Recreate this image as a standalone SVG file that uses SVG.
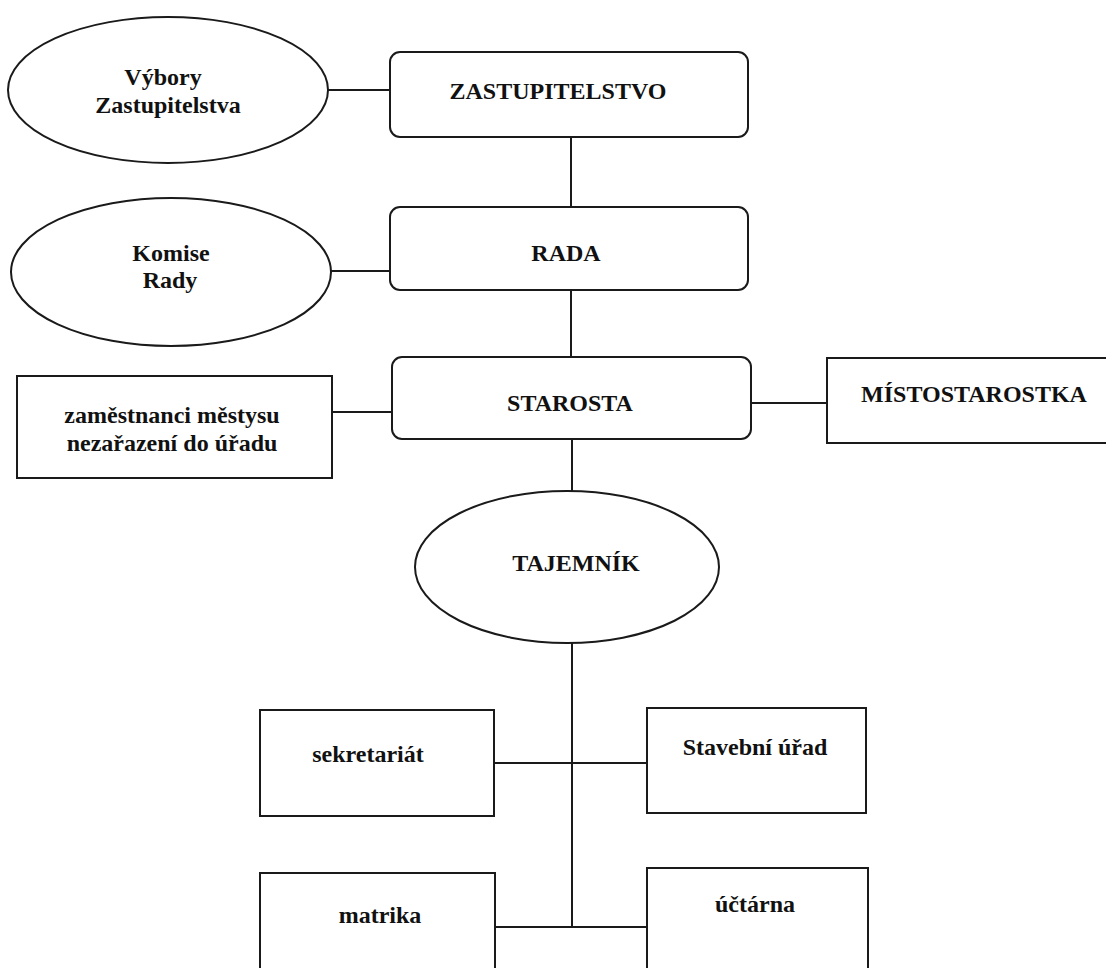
<svg xmlns="http://www.w3.org/2000/svg" width="1106" height="968" viewBox="0 0 1106 968">
<style>
.s{fill:#fff;stroke:#1a1a1a;stroke-width:2}
.c{fill:none;stroke:#1a1a1a;stroke-width:2}
text{font-family:"Liberation Serif","Times New Roman",serif;font-weight:bold;font-size:24px;fill:#111;text-anchor:middle}
</style>
<rect width="1106" height="968" fill="#fff"/>
<g id="connectors">
<line class="c" x1="328" y1="90" x2="390" y2="90"/>
<line class="c" x1="571" y1="137" x2="571" y2="207"/>
<line class="c" x1="331" y1="271" x2="390" y2="271"/>
<line class="c" x1="571" y1="290" x2="571" y2="357"/>
<line class="c" x1="332" y1="412" x2="392" y2="412"/>
<line class="c" x1="751" y1="403" x2="827" y2="403"/>
<line class="c" x1="572" y1="439" x2="572" y2="492"/>
<line class="c" x1="572" y1="643" x2="572" y2="927"/>
<line class="c" x1="494" y1="763" x2="647" y2="763"/>
<line class="c" x1="495" y1="927" x2="647" y2="927"/>
</g>
<g id="vybory"><ellipse class="s" cx="168" cy="90" rx="160" ry="73"/><text x="163" y="85">Výbory</text><text x="168" y="113">Zastupitelstva</text></g>
<g id="zastupitelstvo"><rect class="s" x="390" y="52" width="358" height="85" rx="10"/><text x="558" y="99">ZASTUPITELSTVO</text></g>
<g id="komise"><ellipse class="s" cx="171" cy="272" rx="160" ry="74"/><text x="171" y="261">Komise</text><text x="170" y="288">Rady</text></g>
<g id="rada"><rect class="s" x="390" y="207" width="358" height="83" rx="10"/><text x="566" y="261">RADA</text></g>
<g id="starosta"><rect class="s" x="392" y="357" width="359" height="82" rx="10"/><text x="570" y="411">STAROSTA</text></g>
<g id="zamestnanci"><rect class="s" x="17" y="376" width="315" height="102"/><text x="172" y="423">zaměstnanci městysu</text><text x="172" y="451">nezařazení do úřadu</text></g>
<g id="mistostarostka"><rect class="s" x="827" y="358" width="290" height="85"/><text x="974" y="402">MÍSTOSTAROSTKA</text></g>
<g id="tajemnik"><ellipse class="s" cx="567" cy="567" rx="152" ry="76"/><text x="576" y="571">TAJEMNÍK</text></g>
<g id="sekretariat"><rect class="s" x="260" y="710" width="234" height="106"/><text x="368" y="762">sekretariát</text></g>
<g id="stavebni"><rect class="s" x="647" y="708" width="219" height="105"/><text x="755" y="755">Stavební úřad</text></g>
<g id="matrika"><rect class="s" x="260" y="873" width="235" height="110"/><text x="380" y="923">matrika</text></g>
<g id="uctarna"><rect class="s" x="647" y="868" width="221" height="115"/><text x="755" y="912">účtárna</text></g>
</svg>
